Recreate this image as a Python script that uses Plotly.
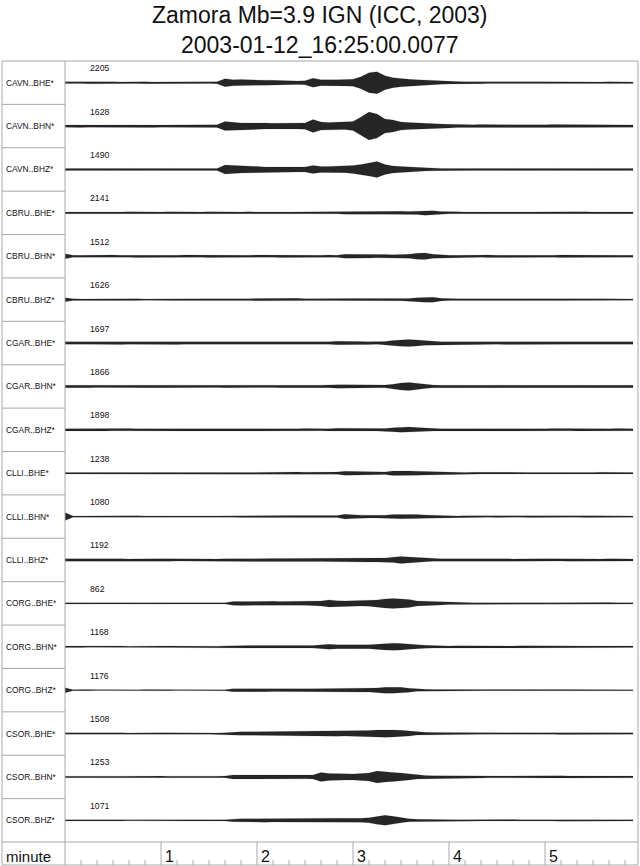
import plotly.graph_objects as go

# ---------------- data ----------------
TITLE_1 = "Zamora Mb=3.9 IGN (ICC, 2003)"
TITLE_2 = "2003-01-12_16:25:00.0077"

stations = ["CAVN..BHE*", "CAVN..BHN*", "CAVN..BHZ*",
            "CBRU..BHE*", "CBRU..BHN*", "CBRU..BHZ*",
            "CGAR..BHE*", "CGAR..BHN*", "CGAR..BHZ*",
            "CLLI..BHE*", "CLLI..BHN*", "CLLI..BHZ*",
            "CORG..BHE*", "CORG..BHN*", "CORG..BHZ*",
            "CSOR..BHE*", "CSOR..BHN*", "CSOR..BHZ*"]

amplitude_labels = [2205, 1628, 1490, 2141, 1512, 1626, 1697, 1866, 1898,
                    1238, 1080, 1192, 862, 1168, 1176, 1508, 1253, 1071]

# sample times of the envelope readings (seconds after start)
time_s = list(range(0, 360, 5))

# half-height of each trace's envelope (pixels)
env_cavn_bhe = [0.9,1.0,0.8,1.0,0.9,1.1,0.9,0.8,1.0,0.9,1.0,0.8,
                0.9,1.0,0.9,0.8,1.0,0.9,0.8,1.0,4.0,3.0,3.2,2.8,
                2.6,2.5,2.4,2.0,1.8,1.8,2.0,4.5,3.0,2.8,3.0,3.2,
                3.5,6.0,10.0,11.0,7.0,5.0,4.0,3.5,3.0,2.5,2.0,1.6,
                1.3,1.1,1.0,0.9,1.0,0.9,1.1,0.9,1.0,0.8,0.9,1.0,
                0.9,1.0,0.8,0.9,1.0,0.9,1.0,0.8,0.9,1.0,0.9,0.8]
env_cavn_bhn = [1.2,1.1,1.3,1.2,1.0,1.2,1.3,1.1,1.2,1.0,1.2,1.3,
                1.1,1.2,1.3,1.1,1.2,1.0,1.2,1.3,4.5,3.5,3.2,3.0,
                3.3,3.0,2.8,3.0,2.8,3.0,3.2,6.5,4.0,3.5,3.8,3.5,
                4.5,9.0,14.0,12.0,7.0,6.0,4.0,3.5,3.0,2.5,2.2,2.0,
                1.8,1.5,1.4,1.3,1.5,1.4,1.3,1.5,1.4,1.3,1.6,1.4,
                1.3,1.5,1.4,1.3,1.4,1.5,1.3,1.4,1.3,1.4,1.3,1.2]
env_cavn_bhz = [1.0,0.9,1.0,1.1,0.9,1.0,0.9,1.0,1.1,0.9,1.0,0.9,
                1.0,1.1,0.9,1.0,0.9,1.0,1.1,1.0,4.5,4.0,3.5,3.0,
                2.8,2.6,2.5,2.4,2.5,2.4,2.5,4.0,3.0,3.0,3.2,3.2,
                4.0,5.0,6.5,8.0,5.0,3.5,3.0,2.5,2.0,1.6,1.3,1.1,
                1.0,0.9,1.0,1.1,0.9,1.0,0.9,1.0,1.1,0.9,1.0,0.9,
                1.0,1.1,0.9,1.0,0.9,1.0,1.1,0.9,1.0,0.9,1.0,0.9]
env_cbru_bhe = [0.9,0.8,0.9,1.0,0.8,0.9,0.8,0.9,1.0,0.8,0.9,0.8,
                0.9,1.0,0.8,0.9,0.8,0.9,1.0,0.8,0.9,0.8,0.9,1.0,
                0.8,0.9,1.0,0.9,0.8,0.9,1.0,0.9,0.8,0.9,1.0,1.3,
                1.4,1.3,1.5,1.4,1.3,1.4,1.5,1.4,1.6,2.4,2.2,1.4,
                0.9,1.0,0.8,0.9,1.0,0.8,0.9,1.0,0.8,0.9,0.8,0.9,
                1.0,0.8,0.9,0.8,0.9,1.0,0.8,0.9,0.8,0.9,1.0,0.8]
env_cbru_bhn = [2.5,1.1,1.0,1.2,1.1,1.0,1.2,1.1,1.0,1.2,1.1,1.0,
                1.2,1.1,1.0,1.2,1.1,1.0,1.2,1.1,1.0,1.2,1.1,1.0,
                1.2,1.1,1.0,1.2,1.1,1.0,1.2,1.1,1.0,1.2,1.1,2.0,
                1.8,1.7,1.8,1.6,1.7,1.6,1.8,2.0,3.0,3.2,2.0,1.4,
                1.1,1.0,1.2,1.1,1.0,1.2,1.1,1.0,1.2,1.1,1.0,1.2,
                1.1,1.0,1.2,1.1,1.0,1.2,1.1,1.0,1.2,1.1,1.0,1.1]
env_cbru_bhz = [2.0,0.8,0.7,0.8,0.9,0.8,0.7,0.8,0.8,0.9,0.7,0.8,
                0.8,0.7,0.9,0.8,0.7,0.8,0.9,0.8,0.7,0.8,0.8,0.9,
                1.2,1.3,1.2,1.1,1.2,1.3,1.0,0.9,0.8,0.9,1.0,1.1,
                1.1,1.2,1.1,1.0,1.1,1.2,1.1,1.2,1.8,2.5,2.5,1.3,
                0.8,0.9,0.8,0.7,0.8,0.9,0.8,0.8,0.7,0.8,0.9,0.8,
                0.7,0.8,0.9,0.8,0.7,0.8,0.8,0.9,0.7,0.8,0.8,0.7]
env_cgar_bhe = [1.3,1.4,1.2,1.3,1.4,1.3,1.2,1.4,1.3,1.2,1.4,1.3,
                1.2,1.3,1.4,1.3,1.2,1.3,1.4,1.2,1.3,1.4,1.3,1.2,
                1.3,1.4,1.3,1.2,1.4,1.3,1.2,1.3,1.4,1.3,1.8,1.9,
                1.8,1.5,1.4,1.3,1.5,2.5,3.2,3.5,3.0,2.2,1.5,1.3,
                1.4,1.3,1.2,1.3,1.4,1.3,1.2,1.4,1.3,1.2,1.3,1.4,
                1.3,1.2,1.4,1.3,1.2,1.3,1.4,1.3,1.2,1.3,1.4,1.3]
env_cgar_bhn = [1.2,1.1,1.3,1.2,1.1,1.2,1.3,1.1,1.2,1.3,1.1,1.2,
                1.3,1.2,1.1,1.2,1.3,1.1,1.2,1.1,1.3,1.2,1.1,1.2,
                1.3,1.2,1.1,1.2,1.3,1.2,1.1,1.2,1.3,1.2,1.7,1.8,
                1.7,1.4,1.3,1.2,1.4,2.2,3.5,4.0,3.0,2.0,1.4,1.2,
                1.1,1.2,1.3,1.2,1.1,1.2,1.3,1.1,1.2,1.3,1.2,1.1,
                1.2,1.3,1.1,1.2,1.3,1.2,1.1,1.2,1.3,1.1,1.2,1.2]
env_cgar_bhz = [1.1,1.2,1.0,1.1,1.2,1.1,1.0,1.1,1.2,1.1,1.0,1.2,
                1.1,1.0,1.1,1.2,1.1,1.0,1.1,1.2,1.1,1.0,1.1,1.2,
                1.1,1.0,1.2,1.1,1.0,1.1,1.2,1.1,1.0,1.1,1.6,1.6,
                1.3,1.2,1.1,1.2,1.3,2.0,2.5,2.8,2.2,1.6,1.2,1.1,
                1.0,1.1,1.2,1.1,1.0,1.1,1.2,1.1,1.0,1.2,1.1,1.0,
                1.1,1.2,1.1,1.0,1.1,1.2,1.1,1.0,1.1,1.2,1.1,1.0]
env_clli_bhe = [0.7,0.6,0.7,0.8,0.7,0.6,0.7,0.7,0.8,0.6,0.7,0.7,
                0.6,0.7,0.8,0.7,0.6,0.7,0.7,0.8,0.6,0.7,1.1,1.0,
                1.1,1.2,1.0,1.1,1.2,1.1,1.0,1.1,1.2,1.1,1.1,2.0,
                1.8,1.3,1.4,1.3,1.3,2.2,2.4,2.3,2.0,1.8,1.2,0.9,
                0.8,0.7,0.8,0.9,0.8,0.7,0.8,0.8,0.9,0.7,0.8,0.8,
                0.7,0.8,0.9,0.8,0.7,0.8,0.8,0.9,0.7,0.8,0.8,0.7]
env_clli_bhn = [4.0,0.7,0.6,0.7,0.8,0.7,0.6,0.7,0.7,0.8,0.6,0.7,
                0.7,0.6,0.7,0.8,0.7,0.6,0.7,0.7,0.8,0.6,1.0,1.0,
                1.1,1.0,0.9,1.0,1.1,1.0,0.9,1.0,1.1,1.0,1.0,2.4,
                1.8,1.4,1.4,1.3,1.4,2.0,2.2,2.3,2.0,1.6,1.3,0.9,
                0.8,0.7,0.8,0.9,0.8,0.7,0.8,0.8,0.9,0.7,0.8,0.8,
                0.7,0.8,0.9,0.8,0.7,0.8,0.8,0.9,0.7,0.8,0.8,0.7]
env_clli_bhz = [1.2,1.3,1.2,1.1,1.2,1.3,1.2,1.2,1.1,1.3,1.2,1.2,
                1.3,1.2,1.1,1.2,1.3,1.2,1.2,1.1,1.3,1.2,1.5,1.5,
                1.6,1.5,1.4,1.5,1.6,1.5,1.4,1.5,1.6,1.5,1.5,2.0,
                2.0,1.9,2.1,2.0,2.0,2.6,3.5,3.0,2.5,1.8,1.3,1.2,
                1.2,1.3,1.2,1.1,1.2,1.3,1.2,1.2,1.1,1.3,1.2,1.2,
                1.3,1.2,1.1,1.2,1.3,1.2,1.2,1.1,1.3,1.2,1.2,1.1]
env_corg_bhe = [0.6,0.5,0.6,0.7,0.6,0.5,0.6,0.6,0.7,0.5,0.6,0.6,
                0.7,0.6,0.5,0.6,0.7,0.6,0.5,0.6,0.6,1.8,2.0,1.8,
                2.0,1.9,2.1,1.8,2.0,1.9,1.8,2.0,2.5,3.5,2.6,2.5,
                2.8,2.6,2.8,3.5,4.5,5.0,4.5,4.0,2.5,2.2,2.0,1.6,
                1.0,0.7,0.8,0.7,0.6,0.7,0.8,0.7,0.6,0.7,0.7,0.8,
                0.7,0.6,0.7,0.8,0.7,0.6,0.7,0.7,0.8,0.6,0.7,0.7]
env_corg_bhn = [0.7,0.8,0.7,0.6,0.7,0.8,0.7,0.7,0.6,0.8,0.7,0.7,
                0.8,0.7,0.6,0.7,0.8,0.7,0.7,0.6,0.8,1.2,1.2,1.3,
                1.2,1.1,1.2,1.3,1.2,1.1,1.2,1.3,1.8,2.5,2.0,1.9,
                2.0,2.1,2.0,2.5,3.2,3.6,3.2,2.5,1.8,1.5,1.3,0.9,
                0.8,0.9,0.8,0.7,0.8,0.9,0.8,0.8,0.7,0.9,0.8,0.8,
                0.9,0.8,0.7,0.8,0.9,0.8,0.8,0.7,0.9,0.8,0.8,0.8]
env_corg_bhz = [2.5,0.5,0.6,0.5,0.4,0.5,0.6,0.5,0.5,0.4,0.6,0.5,
                0.5,0.6,0.4,0.5,0.5,0.6,0.5,0.4,0.5,1.5,1.5,1.4,
                1.5,1.6,1.4,1.5,1.6,1.5,1.4,1.5,1.6,2.0,1.8,1.7,
                1.8,1.9,1.8,2.2,3.0,3.2,2.8,2.0,1.2,0.8,0.7,0.6,
                0.6,0.5,0.6,0.7,0.6,0.5,0.6,0.6,0.7,0.5,0.6,0.6,
                0.5,0.6,0.7,0.6,0.5,0.6,0.6,0.7,0.5,0.6,0.6,0.5]
env_csor_bhe = [0.7,0.8,0.7,0.6,0.7,0.8,0.7,0.7,0.6,0.8,0.7,0.7,
                0.8,0.7,0.6,0.7,0.8,0.7,0.7,0.6,0.8,1.5,1.8,1.7,
                1.8,1.9,1.7,1.8,1.9,1.8,1.7,1.8,2.4,2.5,2.6,2.5,
                2.4,2.5,3.0,3.5,3.8,3.5,3.2,2.5,1.5,1.2,1.0,0.9,
                0.8,0.7,0.8,0.9,0.8,0.7,0.8,0.8,0.9,0.7,0.8,0.8,
                0.7,0.8,0.9,0.8,0.7,0.8,0.8,0.9,0.7,0.8,0.8,0.7]
env_csor_bhn = [0.8,0.9,0.8,0.7,0.8,0.9,0.8,0.8,0.7,0.9,0.8,0.8,
                0.9,0.8,0.7,0.8,0.9,0.8,0.8,0.7,0.9,2.0,2.0,1.9,
                2.0,2.1,1.9,2.0,2.1,2.0,1.9,2.0,4.5,3.5,3.0,3.1,
                3.0,3.2,4.0,6.0,5.0,4.5,4.0,3.0,2.0,1.5,1.1,1.0,
                1.0,0.9,1.0,1.1,1.0,0.9,1.0,1.0,1.1,0.9,1.0,1.0,
                0.9,1.0,1.1,1.0,0.9,1.0,1.0,1.1,0.9,1.0,1.0,0.9]
env_csor_bhz = [0.6,0.7,0.6,0.5,0.6,0.7,0.6,0.6,0.5,0.7,0.6,0.6,
                0.7,0.6,0.5,0.6,0.7,0.6,0.6,0.5,0.7,1.5,1.7,1.6,
                1.7,1.8,1.6,1.7,1.8,1.7,1.6,1.7,2.0,2.0,2.1,2.0,
                1.9,2.0,2.5,4.0,5.0,4.0,2.5,1.5,1.0,0.8,0.7,0.7,
                0.7,0.6,0.7,0.8,0.7,0.6,0.7,0.7,0.8,0.6,0.7,0.7,
                0.6,0.7,0.8,0.7,0.6,0.7,0.7,0.8,0.6,0.7,0.7,0.6]

envelopes = [env_cavn_bhe, env_cavn_bhn, env_cavn_bhz,
             env_cbru_bhe, env_cbru_bhn, env_cbru_bhz,
             env_cgar_bhe, env_cgar_bhn, env_cgar_bhz,
             env_clli_bhe, env_clli_bhn, env_clli_bhz,
             env_corg_bhe, env_corg_bhn, env_corg_bhz,
             env_csor_bhe, env_csor_bhn, env_csor_bhz]

minute_ticks = [1, 2, 3, 4, 5]
minor_step_s = 10

# ---------------- layout geometry ----------------
W, H = 640, 866
ML, MR, MT, MB = 2, 2, 61, 1
PX_PER_MIN = 96.0
LABEL_COL_PX = 63           # width of station-label column
plot_w = W - ML - MR
plot_h = H - MT - MB
n = len(stations)
ROW_PX = 43.39
x_min = -LABEL_COL_PX / PX_PER_MIN
x_max = x_min + plot_w / PX_PER_MIN
y_bottom = -0.5 + plot_h / ROW_PX

def px_to_row(p):
    return p / ROW_PX

fig = go.Figure()

for i, env in enumerate(envelopes):
    tmin = [t / 60.0 for t in time_s]
    upper = [i - px_to_row(a) for a in env]
    lower = [i + px_to_row(a) for a in env]
    fig.add_trace(go.Scatter(
        x=tmin + tmin[::-1], y=upper + lower[::-1],
        mode="lines", fill="toself", fillcolor="rgba(0,0,0,0.85)",
        line=dict(color="rgba(0,0,0,0.4)", width=0.3),
        hoverinfo="skip", showlegend=False))

FRAME = "#a8a8a8"
shapes = []
# outer frame
shapes.append(dict(type="rect", xref="paper", yref="paper", x0=0, x1=1, y0=0, y1=1,
                   line=dict(color=FRAME, width=1)))
# label column divider
shapes.append(dict(type="line", xref="x", yref="y", x0=0, x1=0, y0=-0.5, y1=y_bottom,
                   line=dict(color=FRAME, width=1)))
# row separators inside label column
for i in range(n - 1):
    shapes.append(dict(type="line", xref="x", yref="y", x0=x_min, x1=0,
                       y0=i + 0.5, y1=i + 0.5, line=dict(color=FRAME, width=1)))
# separator above time axis row (full width)
shapes.append(dict(type="line", xref="x", yref="y", x0=x_min, x1=x_max,
                   y0=n - 0.5, y1=n - 0.5, line=dict(color=FRAME, width=1)))
# minute lines in axis row
for m in minute_ticks:
    shapes.append(dict(type="line", xref="x", yref="y", x0=m, x1=m,
                       y0=n - 0.5, y1=y_bottom, line=dict(color=FRAME, width=1)))
# minor ticks every 10 s
for s in range(minor_step_s, 360, minor_step_s):
    if s % 60 == 0:
        continue
    shapes.append(dict(type="line", xref="x", yref="y", x0=s / 60.0, x1=s / 60.0,
                       y0=y_bottom - px_to_row(5), y1=y_bottom,
                       line=dict(color=FRAME, width=1)))

ann = []
FONT = "Liberation Sans, Arial, sans-serif"
for i, (st, amp) in enumerate(zip(stations, amplitude_labels)):
    ann.append(dict(x=x_min + 2 / PX_PER_MIN, y=i, xref="x", yref="y", text=st,
                    showarrow=False, xanchor="left", yanchor="middle",
                    font=dict(family=FONT, size=8.4, color="#111")))
    ann.append(dict(x=23 / PX_PER_MIN, y=i - px_to_row(14.5), xref="x", yref="y",
                    text=str(amp), showarrow=False, xanchor="left", yanchor="middle",
                    font=dict(family=FONT, size=8.7, color="#111")))
axis_row_mid = n - 0.5 + px_to_row(14.5)
ann.append(dict(x=x_min + 2 / PX_PER_MIN, y=axis_row_mid, xref="x", yref="y",
                text="minute", showarrow=False, xanchor="left", yanchor="middle",
                font=dict(family=FONT, size=15, color="#111")))
for m in minute_ticks:
    ann.append(dict(x=m + 1.5 / PX_PER_MIN, y=axis_row_mid, xref="x", yref="y",
                    text=str(m), showarrow=False, xanchor="left", yanchor="middle",
                    font=dict(family=FONT, size=16, color="#111")))
ann.append(dict(x=0.5, y=1 + (MT - 15) / plot_h, xref="paper", yref="paper", text=TITLE_1,
                showarrow=False, xanchor="center", yanchor="middle",
                font=dict(family=FONT, size=23, color="#111")))
ann.append(dict(x=0.5, y=1 + (MT - 45) / plot_h, xref="paper", yref="paper", text=TITLE_2,
                showarrow=False, xanchor="center", yanchor="middle",
                font=dict(family=FONT, size=23, color="#111")))

fig.update_layout(
    width=W, height=H, autosize=False,
    margin=dict(l=ML, r=MR, t=MT, b=MB, pad=0),
    paper_bgcolor="white", plot_bgcolor="white",
    xaxis=dict(range=[x_min, x_max], visible=False, fixedrange=True),
    yaxis=dict(range=[y_bottom, -0.5], visible=False, fixedrange=True),
    shapes=shapes, annotations=ann, showlegend=False,
)

fig.write_html("out.html", config={"displayModeBar": False},
               post_script="document.body.style.margin='0px';document.body.style.overflow='hidden';")
